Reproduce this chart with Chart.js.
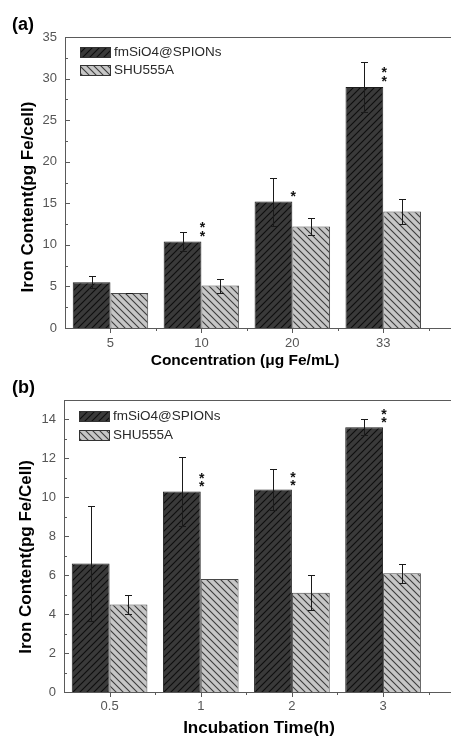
<!DOCTYPE html>
<html>
<head>
<meta charset="utf-8">
<script src="https://cdn.jsdelivr.net/npm/chart.js@4.4.0/dist/chart.umd.min.js"></script>
<style>
  html, body { margin: 0; padding: 0; background: #fff; overflow: hidden; width: 451px; height: 736px; }
  canvas { position: absolute; left: 0; }
  #chartA { top: 0; }
  #chartB { top: 366px; }
</style>
</head>
<body>
<canvas id="chartA" width="462" height="372"></canvas>
<canvas id="chartB" width="462" height="370"></canvas>
<script>
// (a) iron content vs concentration
const concLabels = ['5', '10', '20', '33'];
const concFm = [5.5, 10.4, 15.2, 29.0];
const concFmErr = [0.7, 1.1, 2.9, 3.0];
const concShu = [4.2, 5.1, 12.2, 14.0];
const concShuErr = [0.05, 0.85, 1.0, 1.5];
const concStars = ['', '**', '*', '**'];
const concYTicks = [0, 5, 10, 15, 20, 25, 30, 35];

// (b) iron content vs incubation time
const timeLabels = ['0.5', '1', '2', '3'];
const timeFm = [6.6, 10.3, 10.4, 13.6];
const timeFmErr = [2.95, 1.75, 1.05, 0.4];
const timeShu = [4.5, 5.8, 5.1, 6.1];
const timeShuErr = [0.5, 0, 0.9, 0.5];
const timeStars = ['', '**', '**', '**'];
const timeYTicks = [0, 2, 4, 6, 8, 10, 12, 14];

const FONT = '"Liberation Sans", Arial, sans-serif';
const AXIS = '#5a5a5a';

function hatch(bg, fg, forward) {
  const s = 7;
  const c = document.createElement('canvas');
  c.width = s; c.height = s;
  const g = c.getContext('2d');
  g.fillStyle = bg;
  g.fillRect(0, 0, s, s);
  g.strokeStyle = fg;
  g.lineWidth = 1.1;
  g.beginPath();
  if (forward) {
    g.moveTo(-1, s + 1); g.lineTo(s + 1, -1);
    g.moveTo(-1, 1); g.lineTo(1, -1);
    g.moveTo(s - 1, s + 1); g.lineTo(s + 1, s - 1);
  } else {
    g.moveTo(-1, -1); g.lineTo(s + 1, s + 1);
    g.moveTo(s - 1, -1); g.lineTo(s + 1, 1);
    g.moveTo(-1, s - 1); g.lineTo(1, s + 1);
  }
  g.stroke();
  return g.createPattern(c, 'repeat');
}

const darkHatch = hatch('#3a3a3a', '#0e0e0e', true);
const lightHatch = hatch('#c6c6c6', '#3c3c3c', false);

// frame, ticks, error bars, stars, legend and titles
const panelDecor = {
  id: 'panelDecor',
  afterDatasetsDraw(chart, args, o) {
    const ctx = chart.ctx;
    const { left, right, top, bottom } = chart.chartArea;
    const xs = chart.scales.x, ys = chart.scales.y;
    ctx.save();

    // error bars
    ctx.strokeStyle = '#1a1a1a';
    ctx.lineWidth = 1;
    chart.data.datasets.forEach((ds, di) => {
      const meta = chart.getDatasetMeta(di);
      ds.errors.forEach((e, i) => {
        if (!e) return;
        const bar = meta.data[i];
        const v = ds.data[i].y;
        const x = Math.round(bar.x) + 0.5;
        const y1 = Math.round(ys.getPixelForValue(v + e)) + 0.5;
        const y2 = Math.round(ys.getPixelForValue(v - e)) + 0.5;
        ctx.beginPath();
        ctx.moveTo(x, y1); ctx.lineTo(x, y2);
        ctx.moveTo(x - 3.5, y1); ctx.lineTo(x + 3.5, y1);
        ctx.moveTo(x - 3.5, y2); ctx.lineTo(x + 3.5, y2);
        ctx.stroke();
      });
    });

    // significance stars beside the dark bars
    const meta0 = chart.getDatasetMeta(0);
    const ds0 = chart.data.datasets[0];
    ctx.fillStyle = '#111';
    ctx.font = 'bold 14px ' + FONT;
    ctx.textAlign = 'center';
    ctx.textBaseline = 'alphabetic';
    ds0.stars.forEach((s, i) => {
      const bar = meta0.data[i];
      const x = bar.x + bar.width / 2 + 1;
      for (let k = 0; k < s.length; k++) {
        const cy = bar.y - o.starGap * (k + 1);
        ctx.fillText('*', x, cy + 8);
      }
    });

    // frame
    ctx.strokeStyle = AXIS;
    ctx.lineWidth = 1;
    ctx.strokeRect(left + 0.5, top + 0.5, right - left, bottom - top);

    // y ticks (inward)
    ctx.beginPath();
    const yt = o.yTicks;
    const step = yt[1] - yt[0];
    for (let v = 0; v <= ys.max + 1e-6; v += step / 2) {
      const y = Math.round(ys.getPixelForValue(v)) + 0.5;
      const major = Math.abs(v / step - Math.round(v / step)) < 1e-6;
      ctx.moveTo(left, y);
      ctx.lineTo(left + (major ? 5 : 3), y);
    }
    // x ticks (outward)
    for (let v = 1; v <= xs.max; v += 0.5) {
      const x = Math.round(xs.getPixelForValue(v)) + 0.5;
      const major = Number.isInteger(v);
      ctx.moveTo(x, bottom);
      ctx.lineTo(x, bottom + (major ? 5 : 3));
    }
    ctx.stroke();

    // legend
    ctx.font = '13.5px ' + FONT;
    ctx.textAlign = 'left';
    ctx.textBaseline = 'middle';
    chart.data.datasets.forEach((ds, di) => {
      const sx = left + 15, sy = top + o.legendTop + di * o.legendGap;
      ctx.fillStyle = ds.backgroundColor;
      ctx.fillRect(sx, sy, 31, 10);
      ctx.strokeStyle = '#333';
      ctx.strokeRect(sx + 0.5, sy + 0.5, 30, 10);
      ctx.fillStyle = '#2a2a2a';
      ctx.fillText(ds.label, sx + 34, sy + 5.5);
    });

    // panel letter and axis titles
    ctx.fillStyle = '#000';
    ctx.font = 'bold 18px ' + FONT;
    ctx.fillText(o.panel, 12, o.panelY);

    ctx.textAlign = 'center';
    ctx.font = 'bold ' + o.xTitleSize + 'px ' + FONT;
    ctx.fillText(o.xTitle, o.xTitleX, o.xTitleY);

    ctx.save();
    ctx.translate(o.yTitleX, o.yTitleY);
    ctx.rotate(-Math.PI / 2);
    ctx.font = 'bold 17px ' + FONT;
    ctx.fillText(o.yTitle, 0, 0);
    ctx.restore();

    ctx.restore();
  }
};

function makeChart(id, c) {
  const tickFont = { family: FONT, size: 13 };
  return new Chart(document.getElementById(id), {
    type: 'bar',
    data: {
      datasets: [
        {
          label: 'fmSiO4@SPIONs',
          data: c.fm.map((v, i) => ({ x: i + 1, y: v })),
          errors: c.fmErr,
          stars: c.stars,
          backgroundColor: darkHatch,
          borderColor: '#1e1e1e',
          borderWidth: 1,
          categoryPercentage: 0.83,
          barPercentage: 1
        },
        {
          label: 'SHU555A',
          data: c.shu.map((v, i) => ({ x: i + 1, y: v })),
          errors: c.shuErr,
          backgroundColor: lightHatch,
          borderColor: '#484848',
          borderWidth: 1,
          categoryPercentage: 0.83,
          barPercentage: 1
        }
      ]
    },
    options: {
      responsive: false,
      animation: false,
      layout: { padding: { top: c.padTop, right: 6, left: 0, bottom: 0 } },
      plugins: {
        legend: { display: false },
        tooltip: { enabled: false },
        panelDecor: c.decor
      },
      scales: {
        x: {
          type: 'linear',
          min: 0.5,
          max: 4.8,
          offset: false,
          grid: { display: false, drawTicks: false },
          border: { display: false },
          afterBuildTicks: s => { s.ticks = c.labels.map((_, i) => ({ value: i + 1 })); },
          afterFit: s => { s.height = 44; },
          ticks: {
            autoSkip: false,
            maxRotation: 0,
            padding: c.xPad,
            color: '#555',
            font: tickFont,
            callback: v => c.labels[v - 1]
          }
        },
        y: {
          min: 0,
          max: c.yMax,
          grid: { display: false, drawTicks: false },
          border: { display: false },
          afterBuildTicks: s => { s.ticks = c.decor.yTicks.map(v => ({ value: v })); },
          afterFit: s => { s.width = c.left; },
          ticks: { padding: 8, color: '#555', font: tickFont }
        }
      }
    },
    plugins: [panelDecor]
  });
}

makeChart('chartA', {
  labels: concLabels, fm: concFm, fmErr: concFmErr, shu: concShu, shuErr: concShuErr,
  stars: concStars, yMax: 35, padTop: 37, left: 65, xPad: 8,
  decor: {
    yTicks: concYTicks, starGap: 9, legendTop: 10, legendGap: 18,
    panel: '(a)', panelY: 25,
    xTitle: 'Concentration (\u03bcg Fe/mL)', xTitleX: 245, xTitleY: 361, xTitleSize: 15.5,
    yTitle: 'Iron Content(pg Fe/cell)', yTitleX: 28, yTitleY: 197
  }
});

makeChart('chartB', {
  labels: timeLabels, fm: timeFm, fmErr: timeFmErr, shu: timeShu, shuErr: timeShuErr,
  stars: timeStars, yMax: 15, padTop: 34, left: 64, xPad: 6.5,
  decor: {
    yTicks: timeYTicks, starGap: 8, legendTop: 11, legendGap: 19,
    panel: '(b)', panelY: 22,
    xTitle: 'Incubation Time(h)', xTitleX: 259, xTitleY: 362, xTitleSize: 17,
    yTitle: 'Iron Content(pg Fe/Cell)', yTitleX: 26, yTitleY: 191
  }
});
</script>
</body>
</html>
